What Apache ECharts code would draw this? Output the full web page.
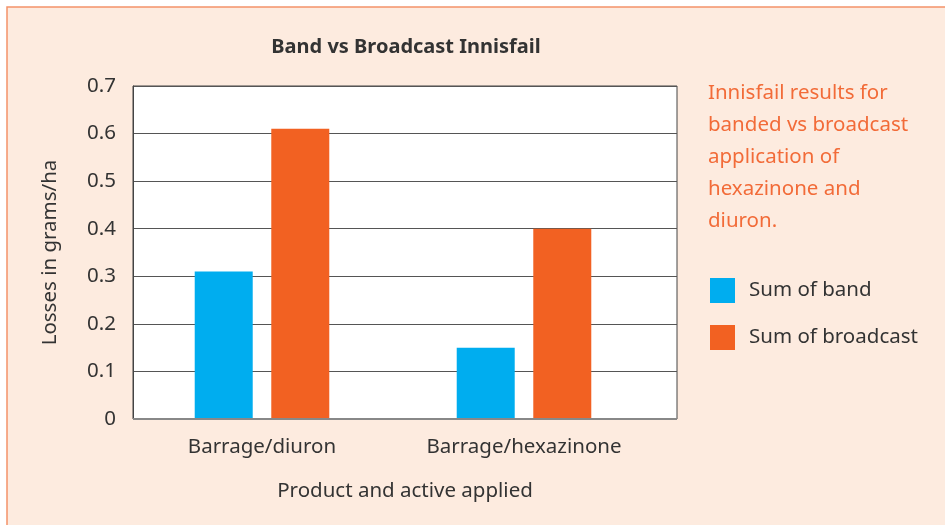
<!DOCTYPE html>
<html>
<head>
<meta charset="utf-8">
<script src="https://cdn.jsdelivr.net/npm/echarts@6/dist/echarts.min.js"></script>
<style>
  html, body { margin: 0; padding: 0; background: #ffffff; }
  #chart { width: 945px; height: 525px; }
</style>
</head>
<body>
<div id="chart"></div>
<script>
var categories = ['Barrage/diuron', 'Barrage/hexazinone'];
var bandValues = [0.31, 0.15];
var broadcastValues = [0.61, 0.40];
var seriesNames = ['Sum of band', 'Sum of broadcast'];
var noteLines = ['Innisfail results for', 'banded vs broadcast', 'application of', 'hexazinone and', 'diuron.'];

var font = '"Noto Sans", "Open Sans", sans-serif';
var dark = '#333333';

var myChart = echarts.init(document.getElementById('chart'));
var option = {
  animation: false,
  textStyle: { fontFamily: font },
  graphic: [
    {
      type: 'rect', z: -10, silent: true,
      shape: { x: 7, y: 7, width: 960, height: 540 },
      style: { fill: '#fdebdf', stroke: '#f3936a', lineWidth: 1.5 }
    },
    {
      type: 'text', left: 708, top: 77,
      style: {
        text: noteLines.join('\n'),
        fill: '#f26b38', font: '20.5px ' + font, lineHeight: 32
      }
    }
  ],
  title: {
    text: 'Band vs Broadcast Innisfail',
    left: 401, top: 32, textAlign: 'center',
    textStyle: { fontFamily: font, fontSize: 20, fontWeight: 'bold', color: dark }
  },
  legend: {
    orient: 'vertical', left: 705, top: 273,
    itemWidth: 25, itemHeight: 25, itemGap: 22,
    icon: 'rect',
    textStyle: { fontFamily: font, fontSize: 20.5, color: dark, padding: [2, 0, 0, 9] },
    data: seriesNames
  },
  grid: [
    { left: 133, top: 86, width: 544, height: 333, show: true, backgroundColor: '#ffffff', borderColor: '#444444', borderWidth: 1 },
    { left: 131, top: 86, width: 524, height: 333 }
  ],
  xAxis: [
    {
      gridIndex: 0, type: 'category', data: categories,
      name: 'Product and active applied', nameLocation: 'middle', nameGap: 62,
      nameTextStyle: { fontFamily: font, fontSize: 20.5, color: dark },
      axisLine: { show: false }, axisTick: { show: false }, axisLabel: { show: false }
    },
    {
      gridIndex: 1, type: 'category', data: categories,
      axisLine: { show: false }, axisTick: { show: false },
      axisLabel: { fontFamily: font, fontSize: 20.5, color: dark, margin: 18 }
    }
  ],
  yAxis: [
    {
      gridIndex: 0, type: 'value', min: 0, max: 0.7, interval: 0.1,
      name: 'Losses in grams/ha', nameLocation: 'middle', nameGap: 72,
      nameTextStyle: { fontFamily: font, fontSize: 20.5, color: dark },
      axisLine: { show: true, lineStyle: { color: '#444444' } },
      axisTick: { show: false },
      axisLabel: { fontFamily: font, fontSize: 20.5, color: dark, margin: 17 },
      splitLine: { show: true, lineStyle: { color: '#555555', width: 1 } }
    },
    {
      gridIndex: 1, type: 'value', min: 0, max: 0.7, interval: 0.1,
      axisLine: { show: false }, axisTick: { show: false },
      axisLabel: { show: false }, splitLine: { show: false }
    }
  ],
  series: [
    {
      name: seriesNames[0], type: 'bar', xAxisIndex: 1, yAxisIndex: 1,
      data: bandValues, barWidth: 58, barGap: '32%',
      itemStyle: { color: '#00adef' }
    },
    {
      name: seriesNames[1], type: 'bar', xAxisIndex: 1, yAxisIndex: 1,
      data: broadcastValues, barWidth: 58, barGap: '32%',
      itemStyle: { color: '#f26122' }
    },
    {
      type: 'line', xAxisIndex: 0, yAxisIndex: 0, silent: true,
      data: [], markLine: {
        silent: true, symbol: 'none', label: { show: false },
        lineStyle: { color: '#888888', width: 2, type: 'solid' },
        data: [{ yAxis: 0 }]
      }
    }
  ]
};
myChart.setOption(option);
</script>
</body>
</html>
